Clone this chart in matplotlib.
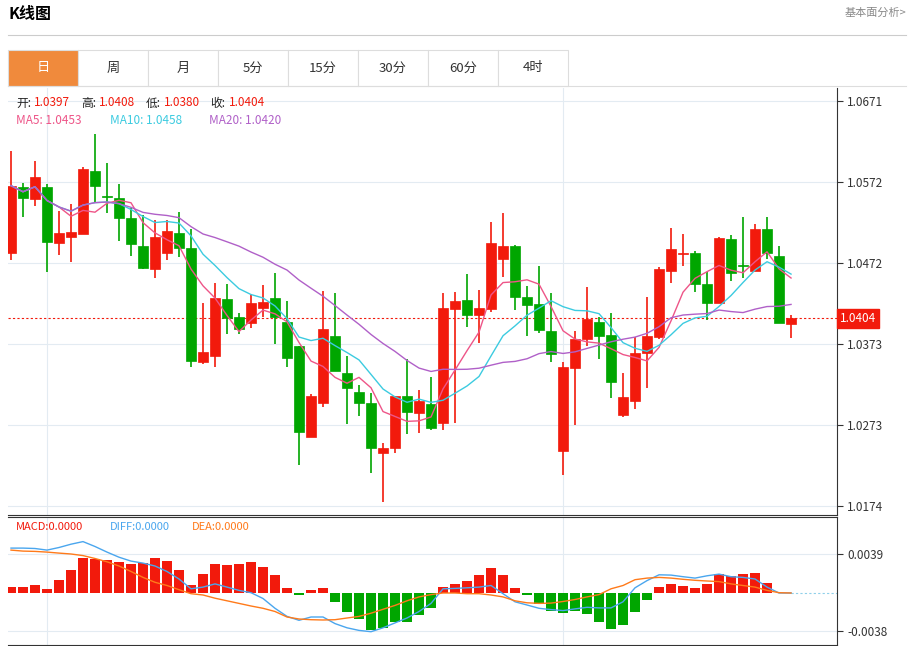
import numpy as np
import pandas as pd
import matplotlib
matplotlib.use('Agg')
import matplotlib.pyplot as plt
from matplotlib.patches import Rectangle

plt.rcParams['font.family'] = ['Noto Sans CJK SC', 'DejaVu Sans']

opens = [1.0484, 1.0565, 1.0551, 1.0565, 1.0497, 1.0504, 1.0508, 1.0585, 1.0554, 1.0552,
         1.0527, 1.0493, 1.0465, 1.0484, 1.0509, 1.0490, 1.0350, 1.0358, 1.0428, 1.0406,
         1.0398, 1.0417, 1.0429, 1.0400, 1.0370, 1.0258, 1.0300, 1.0382, 1.0337, 1.0314,
         1.0300, 1.0239, 1.0245, 1.0309, 1.0288, 1.0299, 1.0276, 1.0416, 1.0427, 1.0408,
         1.0416, 1.0477, 1.0493, 1.0430, 1.0422, 1.0388, 1.0241, 1.0343, 1.0379, 1.0400,
         1.0384, 1.0286, 1.0303, 1.0361, 1.0381, 1.0462, 1.0483, 1.0484, 1.0446, 1.0423,
         1.0501, 1.0470, 1.0462, 1.0514, 1.0481, 1.0397]
highs = [1.0609, 1.0570, 1.0597, 1.0569, 1.0536, 1.0545, 1.0590, 1.0630, 1.0595, 1.0569,
         1.0540, 1.0531, 1.0525, 1.0525, 1.0535, 1.0514, 1.0423, 1.0447, 1.0446, 1.0411,
         1.0434, 1.0445, 1.0460, 1.0425, 1.0370, 1.0311, 1.0438, 1.0435, 1.0358, 1.0322,
         1.0312, 1.0251, 1.0309, 1.0354, 1.0316, 1.0332, 1.0435, 1.0436, 1.0458, 1.0439,
         1.0522, 1.0533, 1.0494, 1.0444, 1.0468, 1.0435, 1.0350, 1.0388, 1.0442, 1.0406,
         1.0411, 1.0337, 1.0381, 1.0430, 1.0467, 1.0515, 1.0508, 1.0487, 1.0461, 1.0504,
         1.0506, 1.0529, 1.0520, 1.0529, 1.0493, 1.0408]
lows = [1.0476, 1.0529, 1.0542, 1.0461, 1.0482, 1.0473, 1.0508, 1.0546, 1.0533, 1.0499,
        1.0481, 1.0465, 1.0454, 1.0476, 1.0479, 1.0344, 1.0348, 1.0344, 1.0385, 1.0385,
        1.0392, 1.0406, 1.0373, 1.0344, 1.0224, 1.0258, 1.0295, 1.0339, 1.0274, 1.0284,
        1.0214, 1.0179, 1.0239, 1.0262, 1.0263, 1.0267, 1.0267, 1.0276, 1.0394, 1.0374,
        1.0412, 1.0455, 1.0414, 1.0382, 1.0386, 1.0350, 1.0212, 1.0273, 1.0370, 1.0354,
        1.0306, 1.0283, 1.0293, 1.0319, 1.0379, 1.0447, 1.0468, 1.0436, 1.0402, 1.0423,
        1.0450, 1.0454, 1.0462, 1.0477, 1.0398, 1.0380]
closes = [1.0567, 1.0552, 1.0578, 1.0498, 1.0509, 1.0510, 1.0588, 1.0567, 1.0553, 1.0527,
          1.0495, 1.0466, 1.0504, 1.0511, 1.0490, 1.0352, 1.0363, 1.0429, 1.0404, 1.0391,
          1.0423, 1.0424, 1.0406, 1.0355, 1.0264, 1.0309, 1.0391, 1.0339, 1.0319, 1.0300,
          1.0245, 1.0245, 1.0309, 1.0289, 1.0303, 1.0269, 1.0417, 1.0425, 1.0408, 1.0417,
          1.0497, 1.0493, 1.0430, 1.0420, 1.0390, 1.0360, 1.0344, 1.0379, 1.0403, 1.0382,
          1.0326, 1.0308, 1.0361, 1.0382, 1.0465, 1.0489, 1.0484, 1.0446, 1.0423, 1.0503,
          1.0460, 1.0468, 1.0514, 1.0484, 1.0398, 1.0404]

# MACD pane, in units of 1e-4
macd = [5.9, 6.5, 8.1, 4.2, 13, 22.8, 35.1, 34.5, 32.8, 30.6, 29.3, 30.2, 35.4, 32.5, 23.4,
        8.5, 19.5, 28.6, 27.6, 28.6, 31.2, 26.3, 17.6, 5.2, -2.3, 3.3, 5.2, -8.8, -19.2, -26,
        -37, -34.8, -28.9, -29.3, -21.8, -15.3, 6.5, 8.8, 11.7, 17.6, 24.7, 17.6, 5.2, -1.6,
        -11, -17.9, -19.5, -17.9, -21.1, -29.3, -36.4, -31.9, -18.5, -7.2, 5.9, 8.8, 7.5, 5.5,
        9.1, 19.5, 16.9, 18.9, 19.8, 9.8, 0.5, 0.3]
diff = [44.9, 44.9, 44.5, 42.9, 45.5, 48.8, 51.4, 46.5, 40.9, 35.8, 31.9, 29.9, 27, 21.5, 14,
        4.2, 5.9, 9.1, 5.9, 2.6, 0.3, -5.5, -15.3, -23.4, -27.3, -24, -24, -30.6, -34.8, -37.4,
        -38.7, -34.8, -29.9, -25, -18.5, -10.4, 4.2, 4.6, 5.2, 5.9, 7.5, -0.7, -8.8, -12, -15.3,
        -16.6, -17.6, -15.9, -14.3, -14.9, -14.9, -8.8, 5.2, 12.4, 18.2, 17.9, 16.3, 14.9, 17.2,
        18.9, 16.3, 15.6, 14, 5.9, 0, 0]
dea = [42.9, 41.9, 41.6, 40.9, 39.9, 39, 37.4, 34.5, 31.2, 27, 21.5, 15.6, 10.7, 7.5, 3.3,
       -0.7, -2, -5.2, -7.8, -10.4, -13, -15.3, -18.5, -24, -26, -26.7, -27, -26.7, -25, -23.4,
       -20.2, -16.3, -12.4, -7.8, -3.9, -1.6, 0, 0, -0.7, -0.7, -2, -3.9, -7.8, -9.8, -10.4,
       -10.1, -8.5, -6.5, -3.9, -1.6, 4.2, 7.5, 13.3, 14.9, 15.6, 14.9, 13.7, 12.7, 12, 11.4,
       9.1, 7.5, 5.9, 2.6, 0.3, 0]

price_ticks = [1.0671, 1.0572, 1.0472, 1.0373, 1.0273, 1.0174]
macd_ticks = [39, -38]
macd_tick_labels = ['0.0039', '-0.0038']
tabs = ['日', '周', '月', '5分', '15分', '30分', '60分', '4时']

RED = '#f21a0c'
GREEN = '#00a600'
W, H = 913, 646

c = pd.Series(closes)
ma5 = c.rolling(5, min_periods=1).mean()
ma10 = c.rolling(10, min_periods=1).mean()
ma20 = c.rolling(20, min_periods=1).mean()

fig = plt.figure(figsize=(W / 100, H / 100), dpi=100)

def box(x0, y0, x1, y1):
    return [x0 / W, 1 - y1 / H, (x1 - x0) / W, (y1 - y0) / H]

# header
fig.text(8 / W, 1 - 14 / H, 'K线图', fontsize=11.5, fontweight='bold', va='center')
fig.text(906 / W, 1 - 13 / H, '基本面分析>', fontsize=8, color='#888888', va='center', ha='right')
fig.add_artist(plt.Line2D([8 / W, 906 / W], [1 - 35 / H] * 2, color='#cccccc', lw=0.8))

# tabs
for i, t in enumerate(tabs):
    x0 = 8 + 70 * i
    bg = '#f08a3c' if i == 0 else 'white'
    fig.add_artist(Rectangle((x0 / W, 1 - 86 / H), 70 / W, 36 / H, facecolor=bg,
                             edgecolor='#dddddd', lw=0.8))
    fig.text((x0 + 35) / W, 1 - 68 / H, t, fontsize=9.5, ha='center', va='center',
             color='white' if i == 0 else '#333333')
fig.add_artist(plt.Line2D([8 / W, 906 / W], [1 - 86 / H] * 2, color='#dddddd', lw=0.8))

# main axes
ax = fig.add_axes(box(8, 88, 837, 515))
x = np.arange(len(closes))
for i in x:
    o, h, l, cl = opens[i], highs[i], lows[i], closes[i]
    col = RED if cl >= o else GREEN
    ax.vlines(i, l, h, color=col, lw=1.2, zorder=3)
    ax.add_patch(Rectangle((i - 0.38, min(o, cl)), 0.76, max(abs(cl - o), 0.00006),
                           facecolor=col, edgecolor=col, lw=0.5, zorder=4))
ax.plot(x, ma5, color='#ee5588', lw=1, zorder=5)
ax.plot(x, ma10, color='#3ccbe0', lw=1, zorder=5)
ax.plot(x, ma20, color='#b060c8', lw=1, zorder=5)
ax.axhline(closes[-1], color=RED, ls=(0, (2, 2)), lw=0.8, zorder=2)
ax.set_xlim(-0.25, 68.83)
ax.set_ylim(1.01626, 1.06869)
ax.set_yticks(price_ticks)
ax.set_yticklabels([f'{v:.4f}' for v in price_ticks])
ax.yaxis.tick_right()
ax.tick_params(axis='y', length=4, labelsize=8.5, color='#333333', labelcolor='#333333')
ax.set_xticks([])
ax.grid(axis='y', color='#e3ebf2', lw=0.8)
for gx in [3, 46]:
    ax.axvline(gx, color='#e3ebf2', lw=0.8, zorder=0)
for s in ['top', 'left']:
    ax.spines[s].set_visible(False)
ax.spines['right'].set_color('#333333')
ax.spines['bottom'].set_color('#333333')
ax.text(1.003, closes[-1], f'{closes[-1]:.4f}', transform=ax.get_yaxis_transform(),
        fontsize=8.5, color='white', va='center', ha='left',
        bbox=dict(boxstyle='square,pad=0.25', fc=RED, ec=RED))

# info lines
def row(y, parts):
    xx = 16
    for s, col in parts:
        t = fig.text(xx / W, 1 - y / H, s, fontsize=8.5, color=col, va='center')
        xx += len(s) * 6.1 + (6 if s.endswith(':') and not s.startswith('M') else 0)
        if s.endswith(':') is False:
            xx += 10

row(103, [('开:', '#222222'), ('1.0397', RED), ('高:', '#222222'), ('1.0408', RED),
          ('低:', '#222222'), ('1.0380', RED), ('收:', '#222222'), ('1.0404', RED)])
fig.text(16 / W, 1 - 121 / H, 'MA5: 1.0453', fontsize=8.5, color='#ee5588', va='center')
fig.text(110 / W, 1 - 121 / H, 'MA10: 1.0458', fontsize=8.5, color='#3ccbe0', va='center')
fig.text(209 / W, 1 - 121 / H, 'MA20: 1.0420', fontsize=8.5, color='#b060c8', va='center')

# MACD axes
bx = fig.add_axes(box(8, 517, 837, 645))
bx.bar(x, macd, width=0.76, color=[RED if v >= 0 else GREEN for v in macd], zorder=3)
bx.plot(x, diff, color='#4aa6ee', lw=1, zorder=4)
bx.plot(x, dea, color='#ff7a1a', lw=1, zorder=4)
bx.plot([65, 68.8], [0, 0], color='#8fd0ea', ls=(0, (2, 2)), lw=0.8)
bx.set_xlim(-0.25, 68.83)
bx.set_ylim(-52, 76)
bx.set_yticks(macd_ticks)
bx.set_yticklabels(macd_tick_labels)
bx.yaxis.tick_right()
bx.tick_params(axis='y', length=4, labelsize=8.5, color='#333333', labelcolor='#333333')
bx.set_xticks([])
bx.grid(axis='y', color='#e3ebf2', lw=0.8)
for gx in [3, 46]:
    bx.axvline(gx, color='#e3ebf2', lw=0.8, zorder=0)
bx.spines['left'].set_visible(False)
for s in ['top', 'right', 'bottom']:
    bx.spines[s].set_color('#333333')
fig.text(16 / W, 1 - 527 / H, 'MACD:0.0000', fontsize=8, color=RED, va='center')
fig.text(110 / W, 1 - 527 / H, 'DIFF:0.0000', fontsize=8, color='#4aa6ee', va='center')
fig.text(192 / W, 1 - 527 / H, 'DEA:0.0000', fontsize=8, color='#ff7a1a', va='center')

fig.savefig('out.png', dpi=100)
